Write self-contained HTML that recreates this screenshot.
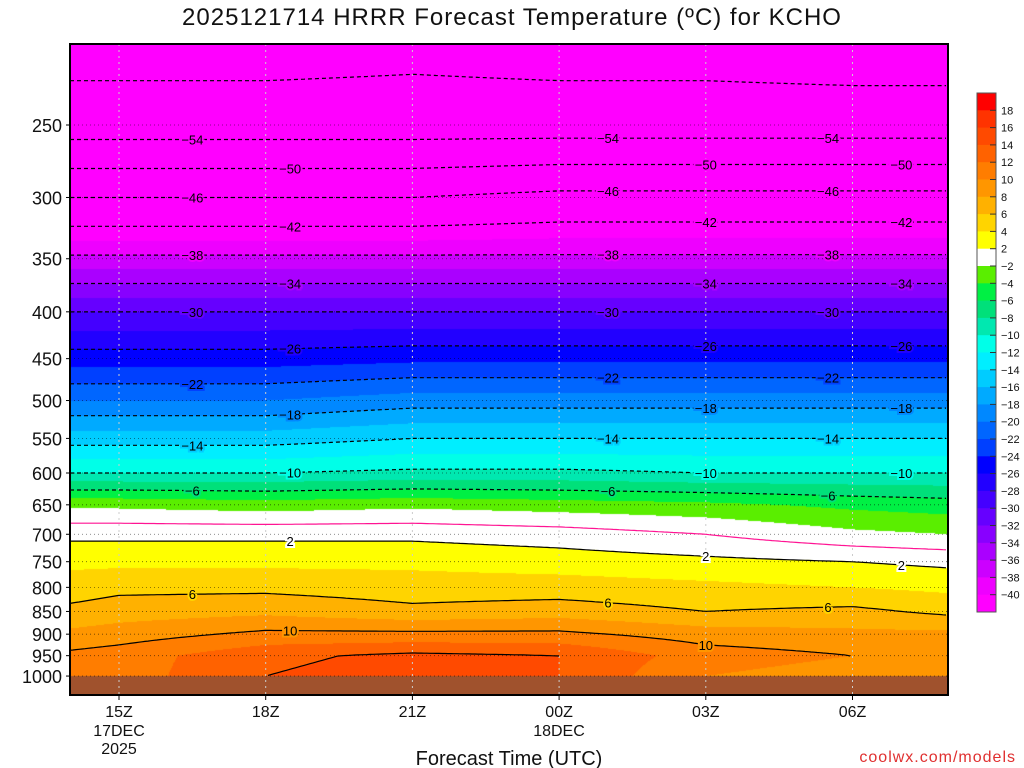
<!DOCTYPE html>
<html><head><meta charset="utf-8"><style>
body{margin:0;background:#fff;width:1024px;height:768px;overflow:hidden;position:relative;font-family:"Liberation Sans",sans-serif}
#title{position:absolute;left:0;top:4px;width:1024px;text-align:center;font-size:24px;letter-spacing:1px;color:#111}
canvas{position:absolute;left:70px;top:44px}
svg{position:absolute;left:0;top:0}
</style></head><body>
<div id="title">2025121714 HRRR Forecast Temperature (ºC) for KCHO</div>
<canvas id="cv" width="878" height="651"></canvas>
<svg id="sv" width="1024" height="768"></svg>
<script>
const hours=[14,15,18,21,24,27,30,32];
const hourLabels=["15Z","18Z","21Z","00Z","03Z","06Z"];
const hourTicks=[15,18,21,24,27,30];
const levels=[200,250,300,350,400,450,500,550,600,650,700,750,800,850,900,950,1000,1050];
const pLabels=[250,300,350,400,450,500,550,600,650,700,750,800,850,900,950,1000];
const t14=[-60,-56,-46,-37.5,-30,-25,-20,-15,-10,-2.5,1.5,3.5,5,6.5,8.5,10.5,10,10];
const t15=[-60,-56,-46,-37.5,-30,-25,-20,-15,-10,-2.5,1.5,3.5,5.5,7,9,11,11,11];
const t18=[-60,-56,-46,-37.5,-30,-25,-20,-15,-10,-3,1.5,3.5,5.5,7.5,10.5,13.5,14,14];
const t21=[-59.5,-56,-46,-37.5,-30,-24.5,-19,-14,-9.5,-2.5,1.5,3.5,5,6.5,10.5,14.5,15,15];
const t24=[-60,-56,-45,-37.5,-30,-24.5,-19,-14,-9.5,-3,1,3,5,7,10.5,14,14,14];
const t27=[-60,-56,-45,-37.5,-30,-24.5,-19,-14,-10,-3.5,0,2.5,4.5,6,9,11,10,10];
const t30=[-60.5,-56,-45,-37.5,-30,-24.5,-19,-14,-10,-4.5,-1.5,2,4,6.5,8.5,10,9,9];
const t32=[-60.5,-56,-45,-37.5,-30,-24.5,-19,-14,-10,-5,-2,1.5,3.5,5.5,8.5,9.5,8.5,8.5];
const temps=[t14,t15,t18,t21,t24,t27,t30,t32];
const binEdges=[18,16,14,12,10,8,6,4,2,-2,-4,-6,-8,-10,-12,-14,-16,-18,-20,-22,-24,-26,-28,-30,-32,-34,-36,-38,-40];
const colors=["#ff0000","#ff3300","#ff4a00","#ff6200","#ff7d00","#ff9600","#ffb100","#ffd400","#ffff00","#ffffff","#5aee00","#00f044","#00e07a","#00e8b0","#00ffe8","#00eeff","#00ccff","#00aaff","#0088ff","#0066ff","#0040ff","#0000ff","#2200ff","#4400ff","#6600ff","#8800ff","#aa00ff","#cc00ff","#ee00ff","#ff00ff"];
const contourLevels=[-58,-54,-50,-46,-42,-38,-34,-30,-26,-22,-18,-14,-10,-6,0,2,6,10,14];

const X0=70,X1=948,Y0=44,Y1=695;
const xOf=h=>119+(h-15)*48.9;
const hOf=x=>15+(x-119)/48.9;
const yOf=p=>125+(Math.log(p)-Math.log(250))*397.5;
const pOf=y=>Math.exp(Math.log(250)+(y-125)/397.5);
function colT(col,p){const lp=Math.log(p);for(let i=0;i<levels.length-1;i++){const a=Math.log(levels[i]),b=Math.log(levels[i+1]);if(lp<=b||i==levels.length-2){const f=Math.max(0,Math.min(1,(lp-a)/(b-a)));return col[i]+(col[i+1]-col[i])*f;}}}
function T(h,p){let i=0;while(i<hours.length-2&&h>hours[i+1])i++;const f=Math.max(0,Math.min(1,(h-hours[i])/(hours[i+1]-hours[i])));return colT(temps[i],p)*(1-f)+colT(temps[i+1],p)*f;}
function colorOf(t){for(let i=0;i<binEdges.length;i++){if(t>binEdges[i])return colors[i];}return colors[colors.length-1];}
function rgb(h){return [parseInt(h.substr(1,2),16),parseInt(h.substr(3,2),16),parseInt(h.substr(5,2),16)];}
const cv=document.getElementById('cv'),ctx=cv.getContext('2d');
const W=878,H=651;
const img=ctx.createImageData(W,H);
const pcache=[];for(let y=0;y<H;y++)pcache.push(pOf(Y0+y+0.5));
for(let x=0;x<W;x++){const h=hOf(X0+x+0.5);for(let y=0;y<H;y++){const c=rgb(colorOf(T(h,pcache[y])));const k=(y*W+x)*4;img.data[k]=c[0];img.data[k+1]=c[1];img.data[k+2]=c[2];img.data[k+3]=255;}}
ctx.putImageData(img,0,0);
ctx.fillStyle="#a0522d";ctx.fillRect(0,yOf(1000)-Y0,W,H);

const NS="http://www.w3.org/2000/svg";const sv=document.getElementById('sv');
function el(tag,attrs,txt){const e=document.createElementNS(NS,tag);for(const k in attrs)e.setAttribute(k,attrs[k]);if(txt!==undefined)e.textContent=txt;sv.appendChild(e);return e;}
pLabels.forEach(p=>{const y=yOf(p);const g=el('line',{x1:X0,x2:X1,y1:y,y2:y,stroke:'#000','stroke-width':0.8,'stroke-dasharray':'1 3',opacity:0.6});


const t=el('text',{x:62,y:y+7,'text-anchor':'end','font-size':18,fill:'#111'},String(p));


el('line',{x1:X0-4,x2:X0,y1:y,y2:y,stroke:'#000'});});
hourTicks.forEach((h,i)=>{const x=xOf(h);const g=el('line',{x1:x,x2:x,y1:Y0,y2:Y1,stroke:'#ccc','stroke-width':1,'stroke-dasharray':'2 4'});


const t=el('text',{x:x,y:717,'text-anchor':'middle','font-size':16,fill:'#111'},hourLabels[i]);


el('line',{x1:x,x2:x,y1:Y1,y2:Y1+5,stroke:'#000'});});
function crossY(h,lv){let prev=null;for(let y=Y0;y<yOf(1000);y+=1){const t=T(h,pOf(y));if(prev!==null&&((prev-lv)*(t-lv)<=0)&&prev!==t){return y-1+(prev-lv)/(prev-t);}prev=t;}return null;}
contourLevels.forEach(lv=>{let segs=[],cur='';for(let x=X0;x<=X1;x+=3){const y=crossY(hOf(x),lv);
if(y!==null){cur+=(cur===''?'M':'L')+x.toFixed(1)+' '+y.toFixed(1)+' ';}else if(cur!==''){segs.push(cur);cur='';}}
if(cur!=='')segs.push(cur);const d=segs.join('');if(!d)return;
const pth=el('path',{d:d,fill:'none',stroke:lv===0?'#ff1493':'#000','stroke-width':1.2,'stroke-dasharray':lv<0?'4 3':'none'});


if(lv!==0&&lv!==-58){[16.5,25,29.5].forEach((hh,j)=>{const hx=Math.min(31,hh+(Math.abs(lv)%8===2?2:0));const y=crossY(hx,lv);if(y===null)return;const x=xOf(hx);
const lb=el('text',{x:x,y:y+5,'text-anchor':'middle','font-size':13,fill:'#000',stroke:colorOf(T(hx,pOf(y-8))),'stroke-width':4,'paint-order':'stroke'},String(lv).replace('-','−'));

});}
});
const fr=el('rect',{x:X0,y:Y0,width:X1-X0,height:Y1-Y0,fill:'none',stroke:'#000','stroke-width':2});


const d1=el('text',{x:119,y:736,'text-anchor':'middle','font-size':16,fill:'#111'},'17DEC');
const d2=el('text',{x:119,y:754,'text-anchor':'middle','font-size':16,fill:'#111'},'2025');
const d3=el('text',{x:559,y:736,'text-anchor':'middle','font-size':16,fill:'#111'},'18DEC');
const xt=el('text',{x:509,y:765,'text-anchor':'middle','font-size':20,fill:'#111'},'Forecast Time (UTC)');
const cr=el('text',{x:1016,y:762,'text-anchor':'end','font-size':16,fill:'#e03030','letter-spacing':'1'},'coolwx.com/models');
const cbTop=93,cbH=17.3;
colors.forEach((c,i)=>{const r=el('rect',{x:977,y:cbTop+i*cbH,width:19,height:cbH+0.5,fill:c});

});
el('rect',{x:977,y:cbTop,width:19,height:cbH*colors.length,fill:'none',stroke:'#555','stroke-width':1});
binEdges.forEach((b,i)=>{const y=cbTop+(i+1)*cbH;el('line',{x1:990,x2:996,y1:y,y2:y,stroke:'#333'});
const t=el('text',{x:1001,y:y+4,'font-size':11,fill:'#111'},String(b).replace('-','−'));

});
</script>
</body></html>
